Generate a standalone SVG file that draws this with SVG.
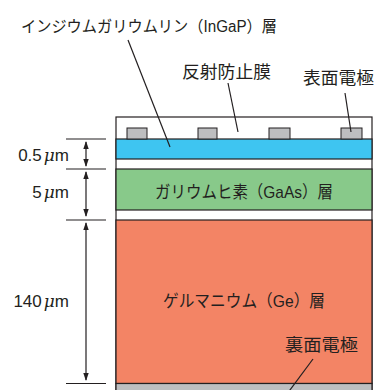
<svg xmlns="http://www.w3.org/2000/svg" width="377" height="390" viewBox="0 0 377 390">
<style>
text{font-family:"Liberation Sans","Noto Sans CJK JP",sans-serif;fill:#231f20;}
.lb{font-size:16px;}
.k{font-size:17px;}
.dm{font-size:17px;}
.ln{stroke:#231f20;stroke-width:1.2;fill:none;}
.lay{stroke:#231f20;stroke-width:1.2;}
.el{fill:#bdbec0;stroke:#231f20;stroke-width:1;}
.mu{font-family:"DejaVu Serif","Liberation Serif",serif;font-style:italic;}
</style>
<defs>
<marker id="ah" viewBox="0 0 8 8" refX="7" refY="4" markerWidth="8" markerHeight="8" markerUnits="userSpaceOnUse" orient="auto-start-reverse">
<path d="M0,1.3 L8,4 L0,6.7 Z" fill="#231f20"/>
</marker>
</defs>
<g id="cell">
<rect x="116" y="117" width="256" height="280" fill="#fff" class="lay"/>
<rect id="ingap" x="116" y="139" width="256" height="20" fill="#3ec5f1" class="lay"/>
<rect id="gaas" x="116" y="169" width="256" height="41" fill="#88c98a" class="lay"/>
<rect id="ge" x="116" y="220" width="256" height="163.5" fill="#f38465" class="lay"/>
<rect id="back" x="116" y="383.5" width="256" height="10" fill="#bdbec0" class="lay"/>
</g>
<g id="electrodes">
<rect x="127" y="128" width="20" height="11" class="el"/>
<rect x="198" y="128" width="19" height="11" class="el"/>
<rect x="269" y="128" width="21" height="11" class="el"/>
<rect x="341" y="128" width="21" height="11" class="el"/>
</g>
<g id="connectors">
<line class="ln" x1="128" y1="40" x2="170" y2="147"/>
<line class="ln" x1="228" y1="83" x2="238" y2="132"/>
<line class="ln" x1="345" y1="93" x2="351" y2="132"/>
<line class="ln" x1="313" y1="359" x2="287" y2="394"/>
<line class="ln" x1="66" y1="139" x2="106" y2="139"/>
<line class="ln" x1="66" y1="169" x2="106" y2="169"/>
<line class="ln" x1="66" y1="220" x2="106" y2="220"/>
<line class="ln" x1="66" y1="383.5" x2="106" y2="383.5"/>
<line class="ln" x1="86" y1="142" x2="86" y2="166" stroke-width="1" marker-start="url(#ah)" marker-end="url(#ah)"/>
<line class="ln" x1="86" y1="172" x2="86" y2="216" stroke-width="1" marker-start="url(#ah)" marker-end="url(#ah)"/>
<line class="ln" x1="86" y1="223" x2="86" y2="380" stroke-width="1" marker-start="url(#ah)" marker-end="url(#ah)"/>
</g>
<g id="labels">
<text class="lb" x="21" y="32" textLength="256" lengthAdjust="spacingAndGlyphs">インジウムガリウムリン（InGaP）層</text>
<text class="k" x="182" y="78" textLength="89" lengthAdjust="spacingAndGlyphs">反射防止膜</text>
<text class="k" x="303" y="84" textLength="71" lengthAdjust="spacingAndGlyphs">表面電極</text>
<text class="k" x="155" y="198" textLength="178" lengthAdjust="spacingAndGlyphs">ガリウムヒ素（GaAs）層</text>
<text class="k" x="163" y="307" textLength="162" lengthAdjust="spacingAndGlyphs">ゲルマニウム（Ge）層</text>
<text class="k" x="285" y="351" textLength="73" lengthAdjust="spacingAndGlyphs">裏面電極</text>
<text class="dm" x="69" y="161" text-anchor="end">0.5<tspan class="mu" dx="2">μ</tspan>m</text>
<text class="dm" x="69" y="198" text-anchor="end">5<tspan class="mu" dx="2">μ</tspan>m</text>
<text class="dm" x="69" y="307" text-anchor="end">140<tspan class="mu" dx="2">μ</tspan>m</text>
</g>
</svg>
